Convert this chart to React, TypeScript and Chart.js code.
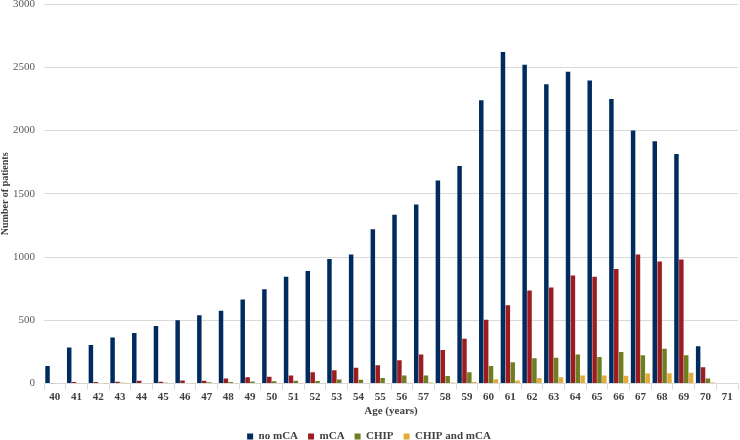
import { Chart, registerables, ChartConfiguration } from "chart.js";
import { useEffect, useRef } from "react";

Chart.register(...registerables);

const ages = [
  "40", "41", "42", "43", "44", "45", "46", "47", "48", "49", "50", "51", "52", "53", "54", "55",
  "56", "57", "58", "59", "60", "61", "62", "63", "64", "65", "66", "67", "68", "69", "70", "71",
];

const noMca = [
  140, 285, 305, 365, 400, 455, 500, 540, 575, 665, 745, 845, 890, 985, 1020, 1220,
  1335, 1415, 1605, 1720, 2240, 2620, 2520, 2365, 2465, 2395, 2250, 2000, 1915, 1815, 295, 0,
];

const mca = [
  3, 12, 12, 15, 22, 15, 25, 22, 40, 50, 55, 65, 90, 105, 125, 145,
  185, 230, 265, 355, 505, 620, 735, 760, 855, 845, 905, 1020, 965, 980, 130, 0,
];

const chip = [
  0, 3, 4, 6, 5, 7, 5, 10, 12, 16, 18, 22, 20, 32, 30, 45,
  65, 65, 60, 90, 140, 168, 200, 205, 230, 210, 250, 225, 275, 225, 40, 0,
];

const chipAndMca = [
  0, 0, 1, 1, 1, 2, 1, 2, 2, 2, 3, 3, 3, 4, 4, 5,
  7, 8, 8, 12, 35, 25, 45, 50, 65, 65, 62, 80, 82, 85, 8, 0,
];

const yTicks = [0, 500, 1000, 1500, 2000, 2500, 3000];

const serif = "'Liberation Serif', 'Times New Roman', serif";

const App = () => {
  const chartRef = useRef<HTMLCanvasElement>(null);

  useEffect(() => {
    document.body.style.margin = "0";
    let chartInstance: Chart | null = null;
    if (chartRef.current) {
      const context = chartRef.current.getContext("2d");
      if (context) {
        const common = { categoryPercentage: 0.9, barPercentage: 0.92, borderWidth: 0 };
        const chartConfig: ChartConfiguration<"bar"> = {
          type: "bar",
          data: {
            labels: ages,
            datasets: [
              { label: "no mCA", data: noMca, backgroundColor: "#002B5E", ...common },
              { label: "mCA", data: mca, backgroundColor: "#9C1C20", ...common },
              { label: "CHIP", data: chip, backgroundColor: "#6E7F23", ...common },
              { label: "CHIP and mCA", data: chipAndMca, backgroundColor: "#E2AA38", ...common },
            ],
          },
          options: {
            animation: false,
            responsive: false,
            maintainAspectRatio: false,
            layout: { padding: { left: 0, right: 2, top: 4, bottom: -12 } },
            plugins: {
              title: { display: false },
              tooltip: { enabled: false },
              legend: {
                position: "bottom",
                labels: {
                  boxWidth: 6,
                  boxHeight: 6,
                  padding: 10,
                  color: "#404040",
                  font: { family: serif, size: 11, weight: "bold" },
                },
              },
            },
            scales: {
              x: {
                grid: {
                  display: true,
                  offset: true,
                  drawOnChartArea: false,
                  drawTicks: true,
                  tickLength: 6,
                  color: "#D9D9D9",
                },
                border: { display: true, color: "#D9D9D9" },
                ticks: {
                  color: "#404040",
                  padding: 1,
                  autoSkip: false,
                  maxRotation: 0,
                  font: { family: serif, size: 11, weight: "bold" },
                },
                title: {
                  display: true,
                  text: "Age (years)",
                  color: "#404040",
                  padding: { top: 0, bottom: 3 },
                  font: { family: serif, size: 11, weight: "bold" },
                },
              },
              y: {
                min: 0,
                max: 3000,
                afterBuildTicks: (axis) => {
                  axis.ticks = yTicks.map((v) => ({ value: v }));
                },
                afterFit: (scale) => {
                  scale.width = 44;
                  scale.paddingTop = 0;
                  scale.paddingBottom = 0;
                },
                grid: { color: "#D9D9D9", drawTicks: false },
                border: { display: false },
                ticks: {
                  color: "#595959",
                  padding: 9,
                  callback: (v) => String(v),
                  font: { family: serif, size: 11 },
                },
                title: {
                  display: true,
                  text: "Number of patients",
                  color: "#404040",
                  padding: { top: 0, bottom: 0 },
                  font: { family: serif, size: 10, weight: "bold", lineHeight: 1 },
                },
              },
            },
          },
        };
        chartInstance = new Chart(context, chartConfig);
      }
    }
    return () => {
      if (chartInstance) {
        chartInstance.destroy();
      }
    };
  }, []);

  return (
    <div style={{ width: 740, height: 440 }}>
      <canvas ref={chartRef} width={740} height={440} style={{ width: 740, height: 440 }} />
    </div>
  );
};

export default App;
